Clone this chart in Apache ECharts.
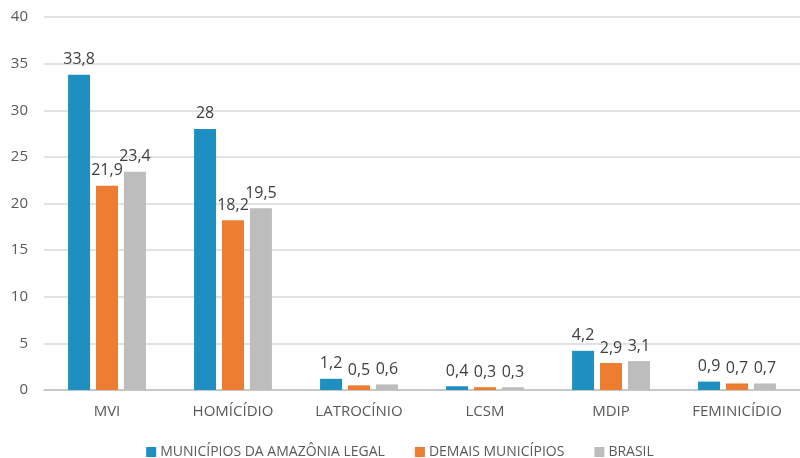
<!DOCTYPE html>
<html>
<head>
<meta charset="utf-8">
<script src="https://cdn.jsdelivr.net/npm/echarts@6/dist/echarts.min.js"></script>
<style>html,body{margin:0;padding:0;background:#fff}#c{width:800px;height:458px}</style>
</head>
<body>
<div id="c"></div>
<script>
const categories = ['MVI', 'HOMÍCÍDIO', 'LATROCÍNIO', 'LCSM', 'MDIP', 'FEMINICÍDIO'];
const seriesNames = ['MUNICÍPIOS DA AMAZÔNIA LEGAL', 'DEMAIS MUNICÍPIOS', 'BRASIL'];
const amazonia = [33.8, 28, 1.2, 0.4, 4.2, 0.9];
const demais = [21.9, 18.2, 0.5, 0.3, 2.9, 0.7];
const brasil = [23.4, 19.5, 0.6, 0.3, 3.1, 0.7];
const yTicks = [0, 5, 10, 15, 20, 25, 30, 35, 40];

const colors = ['#1f8ec0', '#ed7d31', '#bdbdbd'];
const font = '"Open Sans", "Noto Sans", sans-serif';
const chart = echarts.init(document.getElementById('c'));
const mk = (name, data, i) => ({
  name, type: 'bar', data, barWidth: 22, barGap: '27%',
  itemStyle: { color: colors[i] },
  label: {
    show: true, position: 'top', distance: 7, color: '#404040', fontSize: 16, fontFamily: font,
    formatter: p => String(p.value).replace('.', ',')
  }
});
chart.setOption({
  animation: false,
  textStyle: { fontFamily: font },
  grid: { left: 44, top: 17, width: 762, bottom: 68, containLabel: false },
  legend: {
    top: 440, left: 'center', itemWidth: 10, itemHeight: 10, itemGap: 30,
    icon: 'rect', textStyle: { color: '#595959', fontSize: 14, fontFamily: font, padding: [0, 0, 0, -1] },
    data: seriesNames
  },
  xAxis: {
    type: 'category', data: categories,
    axisLine: { lineStyle: { color: '#bfbfbf', width: 1.5 } },
    axisTick: { show: false },
    axisLabel: { color: '#595959', fontSize: 15, margin: 14, fontFamily: font }
  },
  yAxis: {
    type: 'value', min: yTicks[0], max: yTicks[yTicks.length - 1], interval: 5,
    axisLine: { show: false }, axisTick: { show: false },
    splitLine: { lineStyle: { color: '#d9d9d9', width: 1.5 } },
    axisLabel: { color: '#595959', fontSize: 15, margin: 16, fontFamily: font }
  },
  series: [mk(seriesNames[0], amazonia, 0), mk(seriesNames[1], demais, 1), mk(seriesNames[2], brasil, 2)]
});
</script>
</body>
</html>
